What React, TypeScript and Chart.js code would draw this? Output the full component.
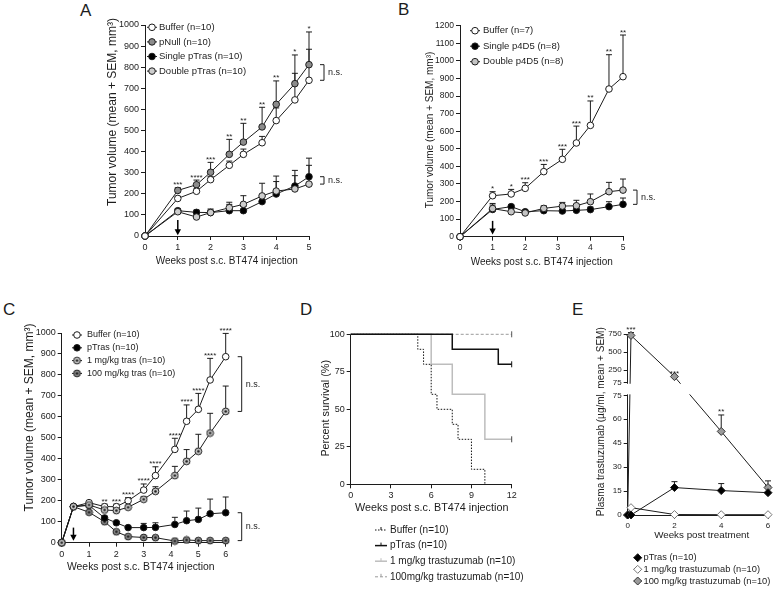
import React, { useEffect, useRef } from 'react';
import { Chart, registerables, LinearScale } from 'chart.js';

Chart.register(...registerables);

// ---------- broken (two-segment) linear scale used by panel E ----------
class BrokenScale extends LinearScale {
  static id = 'broken';
  static defaults = {};
  brkDecimal(v: number): number {
    const b: any = (this.options as any).brk;
    const min = this.min, max = this.max;
    if (v <= b.low) return ((v - min) / (b.low - min)) * b.lowFrac;
    return b.lowFrac + b.gapFrac + ((v - b.low) / (max - b.low)) * (1 - b.lowFrac - b.gapFrac);
  }
  getPixelForValue(v: number) {
    if (v === null || v === undefined || isNaN(v)) return NaN;
    return this.getPixelForDecimal(this.brkDecimal(v));
  }
  getValueForPixel(px: number) {
    const b: any = (this.options as any).brk;
    const d = this.getDecimalForPixel(px);
    if (d <= b.lowFrac) return this.min + (d / b.lowFrac) * (b.low - this.min);
    return b.low + ((d - b.lowFrac - b.gapFrac) / (1 - b.lowFrac - b.gapFrac)) * (this.max - b.low);
  }
}
Chart.register(BrokenScale as any);

const FONT = '"Liberation Sans", Arial, Helvetica, sans-serif';
const INK = '#1c1c1c';

// ---------------- Panel A ----------------
const weeksA = [0, 1, 1.57, 2, 2.57, 3, 3.57, 4, 4.57, 5];
const bufferA = [0, 178, 212, 267, 335, 387, 442, 547, 645, 738];
const bufferA_sem = [0, 10, 12, 15, 20, 25, 30, 60, 126, 147];
const pNullA = [0, 216, 243, 302, 387, 445, 517, 624, 722, 812];
const pNullA_sem = [0, 13, 22, 47, 71, 89, 93, 111, 136, 155];
const singleA = [0, 120, 112, 111, 120, 120, 163, 199, 237, 281];
const singleA_sem = [0, 8, 11, 17, 30, 20, 25, 59, 74, 88];
const doubleA = [0, 115, 90, 111, 134, 150, 190, 213, 223, 246];
const doubleA_sem = [0, 8, 10, 12, 26, 41, 60, 71, 63, 89];
const starsA = ['', '***', '****', '***', '**', '**', '**', '**', '*', '*'];

// ---------------- Panel B ----------------
const weeksB = [0, 1, 1.57, 2, 2.57, 3.14, 3.57, 4, 4.57, 5];
const bufferB = [0, 233, 243, 275, 370, 440, 533, 633, 840, 910];
const bufferB_sem = [0, 23, 26, 32, 41, 57, 96, 139, 195, 237];
const singleB = [0, 155, 171, 142, 148, 146, 150, 154, 171, 184];
const singleB_sem = [0, 25, 10, 8, 8, 10, 12, 15, 28, 36];
const doubleB = [0, 160, 142, 135, 161, 174, 176, 199, 256, 265];
const doubleB_sem = [0, 29, 10, 10, 15, 21, 31, 44, 53, 63];
const starsB = ['', '*', '*', '***', '***', '***', '***', '**', '**', '**'];

// ---------------- Panel C ----------------
const weeksC = [0, 0.43, 1, 1.57, 2, 2.43, 3, 3.43, 4.14, 4.57, 5, 5.43, 6];
const bufferC = [0, 172, 191, 172, 172, 200, 251, 320, 445, 579, 636, 776, 887];
const bufferC_sem = [0, 0, 9, 12, 12, 15, 29, 42, 53, 78, 76, 103, 111];
const pTrasC = [0, 172, 178, 118, 95, 72, 72, 73, 87, 105, 111, 138, 143];
const pTrasC_sem = [0, 0, 8, 8, 6, 6, 20, 22, 34, 46, 54, 70, 75];
const tras1C = [0, 172, 180, 156, 153, 169, 207, 245, 320, 388, 436, 523, 626];
const tras1C_sem = [0, 0, 8, 8, 8, 10, 12, 22, 44, 56, 81, 94, 121];
const tras100C = [0, 172, 145, 100, 52, 29, 25, 24, 8, 13, 10, 10, 10];
const tras100C_sem = [0, 0, 6, 6, 5, 4, 4, 4, 3, 3, 3, 3, 3];
const starsC = ['', '', '', '**', '***', '****', '****', '****', '****', '****', '****', '****', '****'];

// ---------------- Panel D (Kaplan-Meier steps) ----------------
const survBufferX = [0, 5, 5.43, 6, 6.43, 7.57, 8, 9, 10];
const survBufferY = [100, 90, 80, 60, 50, 40, 30, 10, 0];
const survPTrasX = [0, 7.57, 11, 12];
const survPTrasY = [100, 90, 80, 80];
const surv1X = [0, 6, 7.57, 10, 12];
const surv1Y = [100, 80, 60, 30, 30];
const surv100X = [0, 12];
const surv100Y = [100, 100];

// ---------------- Panel E ----------------
const weeksE = [0, 0.14, 2, 4, 6];
const pTrasE = [0, 0, 17.2, 15.3, 14.0];
const pTrasE_sem = [0, 0, 3.7, 4.4, 4.2];
const tras1E = [0, 4.6, 0.3, 0.2, 0.2];
const tras100E = [0, 730, 160, 52.4, 17.2];
const tras100E_sem = [0, 40, 6, 10.3, 4.2];
const starsE = ['', '***', '***', '**', ''];
const yTicksE = [0, 15, 30, 45, 60, 75, 75.0001, 250, 500, 750];

const TUMOR_Y = 'Tumor volume (mean + SEM, mm\u00B3)';
const WEEKS_X = 'Weeks post s.c. BT474 injection';

function series(label: string, xs: number[], ys: number[], st: any = {}) {
  return {
    label,
    data: xs.map((x, i) => ({ x, y: ys[i] })),
    borderColor: st.line ?? INK,
    borderWidth: st.lw ?? 1,
    borderDash: st.dash ?? [],
    pointStyle: st.marker ?? 'circle',
    pointRadius: st.r ?? 3.3,
    pointRotation: st.rot ?? 0,
    pointBackgroundColor: st.fill ?? '#ffffff',
    pointBorderColor: st.stroke ?? INK,
    pointBorderWidth: 1,
    fill: false,
    tension: 0,
    clip: false,
    order: st.order ?? 0,
    stepped: st.stepped ?? false,
  };
}

function dotMarker(fill: string) {
  const c = document.createElement('canvas');
  c.width = 9; c.height = 9;
  const g = c.getContext('2d')!;
  g.beginPath(); g.arc(4.5, 4.5, 3.4, 0, Math.PI * 2);
  g.fillStyle = fill; g.fill();
  g.lineWidth = 1; g.strokeStyle = INK; g.stroke();
  g.beginPath(); g.arc(4.5, 4.5, 1.3, 0, Math.PI * 2);
  g.fillStyle = INK; g.fill();
  return c;
}

function drawMarker(ctx: CanvasRenderingContext2D, ds: any, x: number, y: number) {
  const st = ds.pointStyle;
  if (st && typeof st === 'object') {
    ctx.drawImage(st, x - st.width / 2, y - st.height / 2);
    return;
  }
  const r = typeof ds.pointRadius === 'number' ? ds.pointRadius : 3.3;
  ctx.beginPath();
  if (st === 'rectRot') {
    ctx.moveTo(x - r, y); ctx.lineTo(x, y - r); ctx.lineTo(x + r, y); ctx.lineTo(x, y + r); ctx.closePath();
  } else {
    ctx.arc(x, y, r, 0, Math.PI * 2);
  }
  ctx.fillStyle = ds.pointBackgroundColor; ctx.fill();
  ctx.lineWidth = 1; ctx.strokeStyle = ds.pointBorderColor; ctx.stroke();
}

function txt(ctx: CanvasRenderingContext2D, s: string, x: number, y: number, size: number, align: CanvasTextAlign = 'center', base: CanvasTextBaseline = 'middle', rot = 0) {
  ctx.save();
  ctx.translate(x, y);
  if (rot) ctx.rotate(rot);
  ctx.font = `${size}px ${FONT}`;
  ctx.fillStyle = INK;
  ctx.textAlign = align;
  ctx.textBaseline = base;
  ctx.fillText(s, 0, 0);
  ctx.restore();
}

function makeExtras(p: any) {
  const ox = p.box.L, oy = p.box.T;
  return {
    id: 'extras' + p.key,
    beforeDatasetsDraw(chart: any) {
      const ctx = chart.ctx, ys = chart.scales.y;
      (p.sems || []).forEach((sem: number[] | null, i: number) => {
        if (!sem) return;
        const meta = chart.getDatasetMeta(i);
        const ds = chart.data.datasets[i];
        ctx.save();
        ctx.strokeStyle = INK; ctx.lineWidth = 1;
        meta.data.forEach((pt: any, j: number) => {
          const s = sem[j];
          if (!s) return;
          const top = ys.getPixelForValue(ds.data[j].y + s);
          ctx.beginPath();
          ctx.moveTo(pt.x, pt.y); ctx.lineTo(pt.x, top);
          ctx.moveTo(pt.x - 3, top); ctx.lineTo(pt.x + 3, top);
          ctx.stroke();
        });
        ctx.restore();
      });
    },
    afterDatasetsDraw(chart: any) {
      const ctx: CanvasRenderingContext2D = chart.ctx;
      const xs = chart.scales.x, ys = chart.scales.y, area = chart.chartArea;
      const dsets = chart.data.datasets;
      if (p.gap) {
        const yTop = ys.getPixelForValue(p.gap.high);
        const yBot = ys.getPixelForValue(p.gap.low);
        ctx.save();
        ctx.fillStyle = '#ffffff';
        ctx.fillRect(area.left - 2, yTop + 1, area.right - area.left + 10, yBot - yTop - 2);
        ctx.restore();
      }
      if (p.stars) {
        p.stars.forEach((s: string, j: number) => {
          if (!s) return;
          let topVal = -Infinity;
          dsets.forEach((ds: any, i: number) => {
            const sem = p.sems && p.sems[i] ? p.sems[i][j] || 0 : 0;
            if (ds.data[j]) topVal = Math.max(topVal, ds.data[j].y + sem);
          });
          const x = xs.getPixelForValue(dsets[0].data[j].x);
          const y = ys.getPixelForValue(topVal);
          txt(ctx, s, x, y - 0.5, 8, 'center', 'alphabetic');
        });
      }
      (p.brackets || []).forEach((b: any) => {
        const da = dsets[b.a].data, db = dsets[b.b].data;
        const ya = ys.getPixelForValue(da[da.length - 1].y);
        const yb = ys.getPixelForValue(db[db.length - 1].y);
        const x = area.right + b.dx;
        ctx.save();
        ctx.strokeStyle = INK; ctx.lineWidth = 1;
        ctx.beginPath();
        ctx.moveTo(x - 4, ya); ctx.lineTo(x, ya); ctx.lineTo(x, yb); ctx.lineTo(x - 4, yb);
        ctx.stroke();
        ctx.restore();
        txt(ctx, 'n.s.', x + 4, (ya + yb) / 2, 9, 'left', 'middle');
      });
      if (p.arrow) {
        const x = xs.getPixelForValue(p.arrow.x);
        const y1 = ys.getPixelForValue(p.arrow.y1);
        const y2 = ys.getPixelForValue(p.arrow.y2);
        ctx.save();
        ctx.strokeStyle = '#000'; ctx.fillStyle = '#000'; ctx.lineWidth = 1.5;
        ctx.beginPath(); ctx.moveTo(x, y1); ctx.lineTo(x, y2 - 5); ctx.stroke();
        ctx.beginPath(); ctx.moveTo(x - 3.2, y2 - 6); ctx.lineTo(x + 3.2, y2 - 6); ctx.lineTo(x, y2); ctx.closePath(); ctx.fill();
        ctx.restore();
      }
      if (p.legend) {
        const L = p.legend;
        dsets.forEach((ds: any, i: number) => {
          const cx = L.x - ox, cy = L.y - oy + i * L.row;
          ctx.save();
          ctx.strokeStyle = ds.borderColor; ctx.lineWidth = ds.borderWidth;
          ctx.setLineDash(ds.borderDash || []);
          ctx.beginPath(); ctx.moveTo(cx - L.half, cy); ctx.lineTo(cx + L.half, cy); ctx.stroke();
          ctx.setLineDash([]);
          if (L.kind === 'marker') {
            drawMarker(ctx, ds, cx, cy);
          } else {
            ctx.lineWidth = 1;
            ctx.beginPath(); ctx.moveTo(cx, cy - 3); ctx.lineTo(cx, cy); ctx.stroke();
          }
          ctx.restore();
          txt(ctx, ds.label, cx + L.tdx, cy, L.size, 'left', 'middle');
        });
      }
      if (p.xTitle) txt(ctx, p.xTitle.text, p.xTitle.x - ox, p.xTitle.y - oy, p.xTitle.size);
      if (p.yTitle) txt(ctx, p.yTitle.text, p.yTitle.x - ox, p.yTitle.y - oy, p.yTitle.size, 'center', 'middle', -Math.PI / 2);
    },
  };
}

function axis(size: number) {
  return {
    ticks: { color: INK, font: { family: FONT, size }, padding: 2, maxRotation: 0, autoSkip: false, callback: (v: any) => String(v) },
    grid: { display: true, drawOnChartArea: false, drawTicks: true, tickLength: 4, color: INK, lineWidth: 1 },
    border: { display: true, color: INK, width: 1 },
  };
}

function buildConfig(p: any) {
  const { box, area } = p;
  const xAxisH = 30;
  const ax = axis(p.x.size), ay = axis(p.y.size);
  const yScale: any = {
    ...ay,
    type: p.y.type || 'linear',
    position: 'left',
    min: p.y.min,
    max: p.y.max,
    ticks: { ...ay.ticks, stepSize: p.y.step },
    afterFit: (s: any) => { s.width = area.l - box.L; },
  };
  if (p.y.brk) {
    yScale.brk = p.y.brk;
    yScale.ticks = { ...ay.ticks, callback: (v: number) => String(Math.round(v)) };
    yScale.afterBuildTicks = (s: any) => { s.ticks = p.y.tickValues.map((v: number) => ({ value: v })); };
  }
  return {
    type: 'line',
    data: { datasets: p.datasets },
    options: {
      responsive: false,
      maintainAspectRatio: false,
      animation: false,
      events: [],
      layout: {
        padding: {
          left: 0,
          top: area.t - box.T,
          right: box.L + box.W - area.r,
          bottom: box.T + box.H - area.b - xAxisH,
        },
      },
      plugins: { legend: { display: false }, tooltip: { enabled: false }, title: { display: false } },
      scales: {
        x: {
          ...ax,
          type: 'linear',
          position: 'bottom',
          min: p.x.min,
          max: p.x.max,
          ticks: { ...ax.ticks, stepSize: p.x.step },
          afterFit: (s: any) => { s.height = xAxisH; },
        },
        y: yScale,
      },
    },
    plugins: [makeExtras(p)],
  };
}

function makePanels() {
  const dotLight = dotMarker('#cbcbcb');
  const dotDark = dotMarker('#8a8a8a');
  const censor = (xs: number[]) => xs.map((_, i) => (i === xs.length - 1 ? 3 : 0));
  return [
    {
      key: 'A', box: { L: 70, T: 0, W: 290, H: 275 }, area: { l: 145, t: 25, r: 309, b: 236 },
      x: { min: 0, max: 5, step: 1, size: 9 }, y: { min: 0, max: 1000, step: 100, size: 9 },
      datasets: [
        series('Buffer (n=10)', weeksA, bufferA, { fill: '#ffffff', order: 0 }),
        series('pNull (n=10)', weeksA, pNullA, { fill: '#8c8c8c', order: 0 }),
        series('Single pTras (n=10)', weeksA, singleA, { fill: '#000000', order: 2 }),
        series('Double pTras (n=10)', weeksA, doubleA, { fill: '#cdcdcd', order: 1 }),
      ],
      sems: [bufferA_sem, pNullA_sem, singleA_sem, doubleA_sem],
      stars: starsA,
      brackets: [{ a: 1, b: 0, dx: 15 }, { a: 2, b: 3, dx: 15 }],
      arrow: { x: 1, y1: 76, y2: 4 },
      legend: { x: 152, y: 27.3, row: 14.6, half: 5, tdx: 7, size: 9.5, kind: 'marker' },
      xTitle: { text: WEEKS_X, x: 226.7, y: 261, size: 10 },
      yTitle: { text: TUMOR_Y, x: 113, y: 112, size: 12 },
    },
    {
      key: 'B', box: { L: 400, T: 0, W: 270, H: 275 }, area: { l: 460, t: 25.7, r: 623, b: 236.7 },
      x: { min: 0, max: 5, step: 1, size: 8.5 }, y: { min: 0, max: 1200, step: 100, size: 8.5 },
      datasets: [
        series('Buffer (n=7)', weeksB, bufferB, { fill: '#ffffff', order: 0 }),
        series('Single p4D5 (n=8)', weeksB, singleB, { fill: '#000000', order: 2 }),
        series('Double p4D5 (n=8)', weeksB, doubleB, { fill: '#c4c4c4', order: 1 }),
      ],
      sems: [bufferB_sem, singleB_sem, doubleB_sem],
      stars: starsB,
      brackets: [{ a: 2, b: 1, dx: 14 }],
      arrow: { x: 1, y1: 90, y2: 12 },
      legend: { x: 475, y: 30.7, row: 15.5, half: 5, tdx: 8, size: 9.5, kind: 'marker' },
      xTitle: { text: WEEKS_X, x: 541.7, y: 262.3, size: 10 },
      yTitle: { text: TUMOR_Y, x: 430.7, y: 130, size: 10 },
    },
    {
      key: 'C', box: { L: 0, T: 300, W: 275, H: 285 }, area: { l: 61.7, t: 333, r: 225.7, b: 542.7 },
      x: { min: 0, max: 6, step: 1, size: 9 }, y: { min: 0, max: 1000, step: 100, size: 9 },
      datasets: [
        series('Buffer (n=10)', weeksC, bufferC, { fill: '#ffffff', order: 1 }),
        series('pTras (n=10)', weeksC, pTrasC, { fill: '#000000', order: 2 }),
        series('1 mg/kg tras (n=10)', weeksC, tras1C, { marker: dotLight, order: 0 }),
        series('100 mg/kg tras (n=10)', weeksC, tras100C, { marker: dotDark, order: 3 }),
      ],
      sems: [bufferC_sem, pTrasC_sem, tras1C_sem, tras100C_sem],
      stars: starsC,
      brackets: [{ a: 0, b: 2, dx: 16 }, { a: 1, b: 3, dx: 16 }],
      arrow: { x: 0.43, y1: 72, y2: 9 },
      legend: { x: 77, y: 335, row: 12.8, half: 5, tdx: 10, size: 9, kind: 'marker' },
      xTitle: { text: WEEKS_X, x: 140.8, y: 566.7, size: 10.4 },
      yTitle: { text: TUMOR_Y, x: 29.3, y: 417.5, size: 12 },
    },
    {
      key: 'D', box: { L: 290, T: 300, W: 240, H: 290 }, area: { l: 350.7, t: 334.3, r: 511.7, b: 484.3 },
      x: { min: 0, max: 12, step: 3, size: 9 }, y: { min: 0, max: 100, step: 25, size: 9 },
      datasets: [
        series('Buffer (n=10)', survBufferX, survBufferY, { line: '#111111', dash: [1.5, 1.5], r: 0, stepped: 'before', order: 1 }),
        series('pTras (n=10)', survPTrasX, survPTrasY, { line: '#111111', lw: 1.5, marker: 'line', rot: 90, r: censor(survPTrasX), stroke: '#111111', stepped: 'before', order: 0 }),
        series('1 mg/kg trastuzumab (n=10)', surv1X, surv1Y, { line: '#bdbdbd', lw: 1.5, marker: 'line', rot: 90, r: censor(surv1X), stroke: '#444444', stepped: 'before', order: 2 }),
        series('100mg/kg trastuzumab (n=10)', surv100X, surv100Y, { line: '#9a9a9a', dash: [3, 2], marker: 'line', rot: 90, r: censor(surv100X), stroke: '#555555', stepped: 'before', order: 3 }),
      ],
      legend: { x: 381, y: 530, row: 15.6, half: 6, tdx: 9, size: 10, kind: 'line' },
      xTitle: { text: WEEKS_X, x: 431.7, y: 508.3, size: 10.8 },
      yTitle: { text: 'Percent survival (%)', x: 326, y: 408.3, size: 10.8 },
    },
    {
      key: 'E', box: { L: 570, T: 300, W: 206, H: 290 }, area: { l: 627.7, t: 334, r: 768, b: 515 },
      x: { min: 0, max: 6, step: 2, size: 8 },
      y: { type: 'broken', min: 0, max: 750, step: 15, size: 8, brk: { low: 75, lowFrac: 0.661, gapFrac: 0.0696 }, tickValues: yTicksE },
      datasets: [
        series('pTras (n=10)', weeksE, pTrasE, { marker: 'rectRot', r: 4, fill: '#000000', order: 0 }),
        series('1 mg/kg trastuzumab (n=10)', weeksE, tras1E, { marker: 'rectRot', r: 4, fill: '#ffffff', stroke: '#777777', order: 1 }),
        series('100 mg/kg trastuzumab (n=10)', weeksE, tras100E, { marker: 'rectRot', r: 4, fill: '#9a9a9a', stroke: '#333333', order: 2 }),
      ],
      sems: [pTrasE_sem, null, tras100E_sem],
      stars: starsE,
      gap: { low: 75, high: 75.0001 },
      legend: { x: 637.7, y: 557.7, row: 11.65, half: 4, tdx: 5.8, size: 9.3, kind: 'marker' },
      xTitle: { text: 'Weeks post treatment', x: 701.7, y: 535, size: 9.8 },
      yTitle: { text: 'Plasma trastuzumab (\u00B5g/ml, mean + SEM)', x: 601.7, y: 421.7, size: 10 },
    },
  ];
}

const BOXES = [
  { L: 70, T: 0, W: 290, H: 275 },
  { L: 400, T: 0, W: 270, H: 275 },
  { L: 0, T: 300, W: 275, H: 285 },
  { L: 290, T: 300, W: 240, H: 290 },
  { L: 570, T: 300, W: 206, H: 290 },
];

const LETTERS = [
  { t: 'A', x: 80, y: 1.6 },
  { t: 'B', x: 398, y: 0.6 },
  { t: 'C', x: 3, y: 300.6 },
  { t: 'D', x: 300, y: 300.6 },
  { t: 'E', x: 572, y: 300.6 },
];

export default function App() {
  const refs = [
    useRef<HTMLCanvasElement>(null),
    useRef<HTMLCanvasElement>(null),
    useRef<HTMLCanvasElement>(null),
    useRef<HTMLCanvasElement>(null),
    useRef<HTMLCanvasElement>(null),
  ];
  useEffect(() => {
    Chart.defaults.font.family = FONT;
    const panels = makePanels();
    const charts = panels.map((p, i) => new Chart(refs[i].current as HTMLCanvasElement, buildConfig(p) as any));
    return () => charts.forEach((c) => c.destroy());
  }, []);
  return (
    <div style={{ position: 'absolute', left: 0, top: 0, width: 776, height: 590, background: '#ffffff', overflow: 'hidden' }}>
      {LETTERS.map((l) => (
        <div key={l.t} style={{ position: 'absolute', left: l.x, top: l.y, fontFamily: FONT, fontSize: 17, lineHeight: '17px', color: INK }}>{l.t}</div>
      ))}
      {BOXES.map((b, i) => (
        <canvas key={i} ref={refs[i]} width={b.W} height={b.H} style={{ position: 'absolute', left: b.L, top: b.T, width: b.W, height: b.H }} />
      ))}
    </div>
  );
}
